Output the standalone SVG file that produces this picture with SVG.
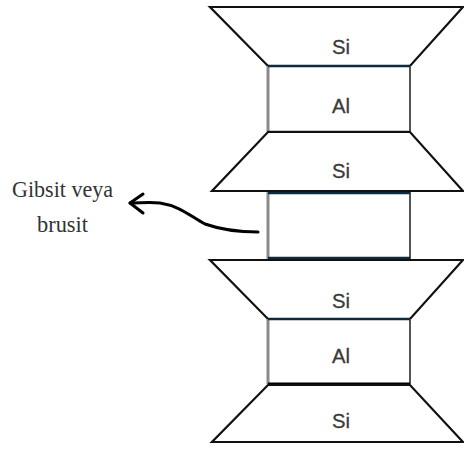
<svg xmlns="http://www.w3.org/2000/svg" width="464" height="452" viewBox="0 0 464 452">
<style>
.trap{fill:#fff;stroke:#111;stroke-width:2.2;stroke-linejoin:miter}
.side-l{stroke:#8a8a8a;stroke-width:3}
.side-r{stroke:#555;stroke-width:2}
.edge{stroke:#0e2a3e;stroke-width:2.5}
.lbl{font-family:"Liberation Sans",Arial,sans-serif;font-size:20px;fill:#3a3a3a;text-anchor:middle;stroke:#3a3a3a;stroke-width:0.3}
.note{font-family:"Liberation Serif","Times New Roman",serif;font-size:24px;fill:#333}
</style>
<rect width="464" height="452" fill="#fff"/>
<g id="si1"><polygon class="trap" points="210,7 463,7 410,66 268,66"/><text class="lbl" x="341" y="54" textLength="18" lengthAdjust="spacingAndGlyphs">Si</text></g>
<g id="al1"><line class="side-l" x1="268" y1="66" x2="268" y2="132"/><line class="side-r" x1="410" y1="66" x2="410" y2="132"/><line class="edge" x1="268" y1="66" x2="410" y2="66"/><line class="edge" x1="268" y1="132" x2="410" y2="132"/><text class="lbl" x="341" y="113" textLength="18" lengthAdjust="spacingAndGlyphs">Al</text></g>
<g id="si2"><polygon class="trap" points="268,132 410,132 463,191 212,191"/><text class="lbl" x="341" y="178" textLength="18" lengthAdjust="spacingAndGlyphs">Si</text></g>
<g id="gibbsite"><line class="side-l" x1="268" y1="192" x2="268" y2="259"/><line class="side-r" x1="410" y1="192" x2="410" y2="259"/><line class="edge" x1="268" y1="193" x2="410" y2="193"/><line class="edge" x1="268" y1="258" x2="410" y2="258"/></g>
<g id="si3"><polygon class="trap" points="210,260 463,260 410,319 268,319"/><text class="lbl" x="341" y="308" textLength="18" lengthAdjust="spacingAndGlyphs">Si</text></g>
<g id="al2"><line class="side-l" x1="268" y1="319" x2="268" y2="384"/><line class="side-r" x1="410" y1="319" x2="410" y2="384"/><line class="edge" x1="268" y1="319" x2="410" y2="319"/><line stroke="#000" stroke-width="3" x1="268" y1="384" x2="410" y2="384"/><text class="lbl" x="341" y="363" textLength="18" lengthAdjust="spacingAndGlyphs">Al</text></g>
<g id="si4"><polygon class="trap" points="268,385 410,385 463,442 212,442"/><text class="lbl" x="341" y="428" textLength="18" lengthAdjust="spacingAndGlyphs">Si</text></g>
<g id="label"><text class="note" x="12" y="197" textLength="101" lengthAdjust="spacingAndGlyphs">Gibsit veya</text><text class="note" x="37" y="232" textLength="51" lengthAdjust="spacingAndGlyphs">brusit</text></g>
<g id="connectors" fill="none" stroke="#000" stroke-width="3" stroke-linecap="round" stroke-linejoin="round">
<path d="M258,232 C240,232 222,230 205,224 C190,216 180,206 160,203 C150,202 140,203 130,203"/>
<polyline points="143,194 130,203 143,213"/>
</g>
</svg>
